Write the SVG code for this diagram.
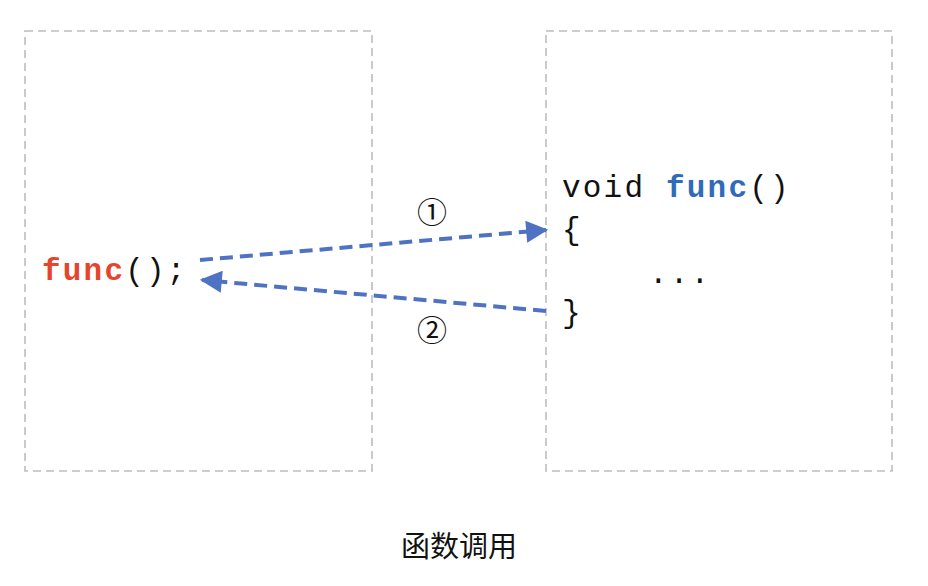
<svg xmlns="http://www.w3.org/2000/svg" width="928" height="586" viewBox="0 0 928 586">
<style>
.box{fill:none;stroke:#bdbdbd;stroke-width:1.6;stroke-dasharray:8 5}
.code{font-family:"Liberation Mono","Courier New",monospace;font-size:31px;letter-spacing:2.2px;fill:#111}
.kw{font-weight:bold}
.conn{fill:none;stroke:#4f72c2;stroke-width:4;stroke-dasharray:13 7}
.lbl{font-family:"Liberation Sans","Noto Sans CJK SC",sans-serif;fill:#111;text-anchor:middle}
</style>
<defs>
<marker id="ah" viewBox="0 0 10 10" refX="9" refY="5" markerWidth="6.5" markerHeight="5.5" markerUnits="strokeWidth" orient="auto">
<path d="M0,0 L10,5 L0,10 z" fill="#4f72c2"/>
</marker>
</defs>
<g id="caller">
<rect class="box" x="25" y="31" width="347" height="440"/>
<text class="code" x="42" y="280"><tspan class="kw" fill="#e5452d">func</tspan>();</text>
</g>
<g id="callee">
<rect class="box" x="546" y="31" width="346" height="440"/>
<text class="code" x="562" y="197">void <tspan class="kw" fill="#2f6bb8">func</tspan>()</text>
<text class="code" x="562" y="239">{</text>
<text class="code" x="649" y="283">...</text>
<text class="code" x="562" y="322">}</text>
</g>
<g id="connectors">
<path class="conn" d="M200,260 L546,230" marker-end="url(#ah)"/>
<path class="conn" d="M546,311 L202,280" marker-end="url(#ah)"/>
<text class="lbl" x="432" y="223" font-size="30">①</text>
<text class="lbl" x="432" y="341" font-size="30">②</text>
</g>
<text class="lbl" x="459" y="557" font-size="29">函数调用</text>
</svg>
